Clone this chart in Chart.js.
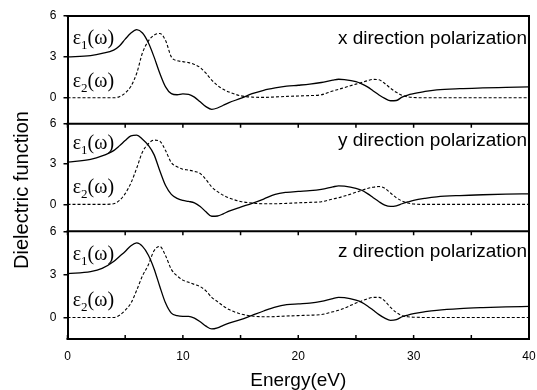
<!DOCTYPE html>
<html>
<head>
<meta charset="utf-8">
<script src="https://cdn.jsdelivr.net/npm/chart.js@4"></script>
<style>
html, body { margin: 0; padding: 0; background: #fff; }
#wrap { width: 537px; height: 390px; }
</style>
</head>
<body>
<div id="wrap"><canvas id="dielectricChart" width="537" height="390"></canvas></div>
<script>
// photon energy grid (eV)
const energy = [0, 2, 3, 4, 4.5, 5, 5.5, 6, 6.5, 7, 7.5, 8, 8.5, 9, 9.5, 10, 10.5, 11, 11.5, 12,
  12.5, 13, 13.5, 14, 15, 16, 17, 18, 19, 20, 21, 22, 23, 23.5, 24, 25, 25.5, 26, 26.5, 27,
  27.5, 28, 28.5, 29, 29.5, 30, 31, 32, 34, 36, 38, 40];

// x polarization
const xEps1 = [3.0, 3.1, 3.25, 3.5, 3.8, 4.3, 4.75, 5.0, 4.75, 4.05, 3.0, 1.8, 0.8, 0.3, 0.22, 0.28,
  0.25, 0.05, -0.3, -0.65, -0.85, -0.75, -0.55, -0.35, -0.05, 0.3, 0.55, 0.72, 0.85, 0.92,
  1.0, 1.12, 1.3, 1.36, 1.33, 1.18, 1.02, 0.8, 0.5, 0.2, -0.05, -0.22, -0.2, 0.05, 0.2, 0.3,
  0.47, 0.58, 0.67, 0.72, 0.76, 0.8];
const xEps2 = [0, 0, 0, 0, 0.08, 0.35, 0.85, 1.8, 3.3, 4.15, 4.6, 4.72, 4.2, 3.0, 2.72, 2.65,
  2.58, 2.45, 2.22, 1.8, 1.3, 0.9, 0.62, 0.42, 0.15, 0.05, 0.03, 0.06, 0.1, 0.13, 0.16, 0.22,
  0.5, 0.62, 0.75, 1.0, 1.12, 1.25, 1.35, 1.32, 1.05, 0.7, 0.4, 0.18, 0.07, 0.02, 0, 0, 0, 0, 0, 0];

// y polarization
const yEps1 = [3.14, 3.35, 3.6, 4.0, 4.35, 4.75, 5.1, 5.15, 4.85, 4.4, 3.7, 2.5, 1.4, 0.75, 0.45,
  0.3, 0.22, 0.12, -0.15, -0.55, -0.88, -0.86, -0.7, -0.5, -0.2, 0.08, 0.4, 0.75, 0.9, 0.97,
  1.02, 1.12, 1.3, 1.38, 1.36, 1.2, 1.05, 0.8, 0.5, 0.2, -0.05, -0.15, -0.1, 0.05, 0.18, 0.3,
  0.45, 0.56, 0.66, 0.72, 0.76, 0.79];
const yEps2 = [0, 0, 0, 0.05, 0.3, 0.8, 1.6, 2.7, 3.9, 4.5, 4.78, 4.7, 4.0, 3.1, 2.8, 2.62, 2.55,
  2.45, 2.3, 1.85, 1.3, 0.95, 0.68, 0.48, 0.22, 0.1, 0.05, 0.05, 0.08, 0.12, 0.15, 0.2, 0.4,
  0.5, 0.62, 0.9, 1.05, 1.18, 1.28, 1.33, 1.2, 0.85, 0.5, 0.25, 0.1, 0.03, 0, 0, 0, 0, 0, 0];

// z polarization
const zEps1 = [3.05, 3.2, 3.42, 3.9, 4.25, 4.6, 5.0, 5.19, 4.95, 4.35, 3.4, 2.16, 1.0, 0.3, 0.12,
  0.07, 0.07, -0.05, -0.3, -0.6, -0.8, -0.72, -0.55, -0.4, -0.15, 0.15, 0.45, 0.72, 0.89, 0.95,
  1.0, 1.12, 1.32, 1.4, 1.38, 1.2, 1.05, 0.8, 0.5, 0.2, -0.05, -0.2, -0.15, 0.05, 0.17, 0.27,
  0.4, 0.5, 0.62, 0.69, 0.74, 0.77];
const zEps2 = [0, 0, 0, 0, 0.15, 0.5, 1.0, 1.9, 2.9, 3.65, 4.65, 4.95, 4.3, 3.35, 2.9, 2.6, 2.45,
  2.3, 2.15, 1.85, 1.4, 1.1, 0.8, 0.55, 0.25, 0.1, 0.05, 0.06, 0.1, 0.13, 0.16, 0.2, 0.4, 0.5,
  0.65, 1.0, 1.15, 1.3, 1.4, 1.4, 1.15, 0.7, 0.35, 0.12, 0.05, 0.02, 0, 0, 0, 0, 0, 0];

const yTickValues = [0, 3, 6];
const xTickValues = [0, 10, 20, 30, 40];
const xMinorValues = [5, 15, 25, 35];
const panelIds = ['yx', 'yy', 'yz'];
const panelNames = ['x direction polarization', 'y direction polarization', 'z direction polarization'];
const panelMin = [-1.9, -2, -1.5];

function pts(arr) {
  return energy.map((e, i) => ({ x: e, y: arr[i] }));
}

function solid(arr, axis) {
  return { data: pts(arr), yAxisID: axis, borderColor: '#000', borderWidth: 1.3,
    pointRadius: 0, fill: false, cubicInterpolationMode: 'monotone' };
}
function dashed(arr, axis) {
  return { data: pts(arr), yAxisID: axis, borderColor: '#000', borderWidth: 1.1,
    borderDash: [3, 2], pointRadius: 0, fill: false, cubicInterpolationMode: 'monotone' };
}

function yScale(i) {
  return {
    type: 'linear',
    position: 'left',
    stack: 'panels',
    stackWeight: 1,
    weight: 3 - i,
    min: panelMin[i],
    max: 6,
    afterBuildTicks: s => { s.ticks = yTickValues.map(v => ({ value: v })); },
    afterFit: s => { s.width = 67.5; },
    ticks: { color: '#000', padding: 7, font: { family: 'Liberation Sans', size: 12 } },
    grid: { drawOnChartArea: false, drawTicks: true, tickLength: 4, color: '#000', lineWidth: 1.5 },
    border: { display: true, color: '#000', width: 2 }
  };
}

// frames, inner ticks and texts
const decor = {
  id: 'decor',
  afterDraw(chart) {
    const ctx = chart.ctx;
    const area = chart.chartArea;
    const sx = chart.scales.x;
    ctx.save();
    ctx.strokeStyle = '#000';
    ctx.fillStyle = '#000';

    ctx.lineWidth = 2;
    ctx.beginPath();
    panelIds.forEach(id => {
      const s = chart.scales[id];
      ctx.moveTo(area.left - 1, s.top);
      ctx.lineTo(area.right + 1, s.top);
    });
    ctx.moveTo(area.left - 1, area.bottom);
    ctx.lineTo(area.right + 1, area.bottom);
    ctx.moveTo(area.right, area.top);
    ctx.lineTo(area.right, area.bottom);
    ctx.stroke();

    ctx.lineWidth = 1.5;
    ctx.beginPath();
    xTickValues.concat(xMinorValues).forEach(v => {
      const px = sx.getPixelForValue(v);
      ['yy', 'yz'].forEach(id => {
        const t = chart.scales[id].top;
        ctx.moveTo(px, t);
        ctx.lineTo(px, t + 4);
      });
      ctx.moveTo(px, area.bottom);
      ctx.lineTo(px, area.bottom - 4);
    });
    ctx.stroke();

    const labelPos = [3.96, 4.35, 4.2];
    const eps1Pos = [3.94, 4.09, 3.99];
    const eps2Pos = [0.76, 0.83, 0.82];
    panelIds.forEach((id, i) => {
      const s = chart.scales[id];
      ctx.font = '19px "Liberation Sans", Arial, sans-serif';
      ctx.textAlign = 'right';
      ctx.textBaseline = 'alphabetic';
      ctx.fillText(panelNames[i], area.right - 2, s.getPixelForValue(labelPos[i]));

      ctx.textAlign = 'left';
      [[eps1Pos[i], '1'], [eps2Pos[i], '2']].forEach(([v, sub]) => {
        let x = sx.getPixelForValue(0.45);
        const y = s.getPixelForValue(v);
        ctx.font = '20px "Liberation Serif", "Times New Roman", serif';
        ctx.fillText('ε', x, y);
        x += ctx.measureText('ε').width;
        ctx.font = '13px "Liberation Serif", "Times New Roman", serif';
        ctx.fillText(sub, x, y + 5);
        x += ctx.measureText(sub).width;
        ctx.font = '20px "Liberation Serif", "Times New Roman", serif';
        ctx.fillText('(ω)', x, y);
      });
    });

    ctx.translate(22, 190);
    ctx.rotate(-Math.PI / 2);
    ctx.font = '20px "Liberation Sans", Arial, sans-serif';
    ctx.textAlign = 'center';
    ctx.textBaseline = 'middle';
    ctx.fillText('Dielectric function', 0, 0);
    ctx.restore();
  }
};

new Chart(document.getElementById('dielectricChart'), {
  type: 'line',
  data: {
    datasets: [
      solid(xEps1, 'yx'), dashed(xEps2, 'yx'),
      solid(yEps1, 'yy'), dashed(yEps2, 'yy'),
      solid(zEps1, 'yz'), dashed(zEps2, 'yz')
    ]
  },
  options: {
    responsive: false,
    animation: false,
    devicePixelRatio: 1,
    layout: { padding: { top: 16, right: 8, left: 0, bottom: 0 } },
    scales: {
      x: {
        type: 'linear',
        min: 0,
        max: 40,
        afterBuildTicks: s => { s.ticks = xTickValues.map(v => ({ value: v })); },
        afterFit: s => { s.height = 51; s.paddingLeft = 0; s.paddingRight = 0; },
        ticks: { color: '#000', padding: 10, maxRotation: 0, font: { family: 'Liberation Sans', size: 12 } },
        grid: { display: false, drawTicks: false },
        border: { display: false },
        title: { display: true, text: 'Energy(eV)', color: '#000', padding: 0,
          font: { family: 'Liberation Sans', size: 19, lineHeight: 1 } }
      },
      yx: yScale(0),
      yy: yScale(1),
      yz: yScale(2)
    },
    plugins: { legend: { display: false }, tooltip: { enabled: false } }
  },
  plugins: [decor]
});
</script>
</body>
</html>
